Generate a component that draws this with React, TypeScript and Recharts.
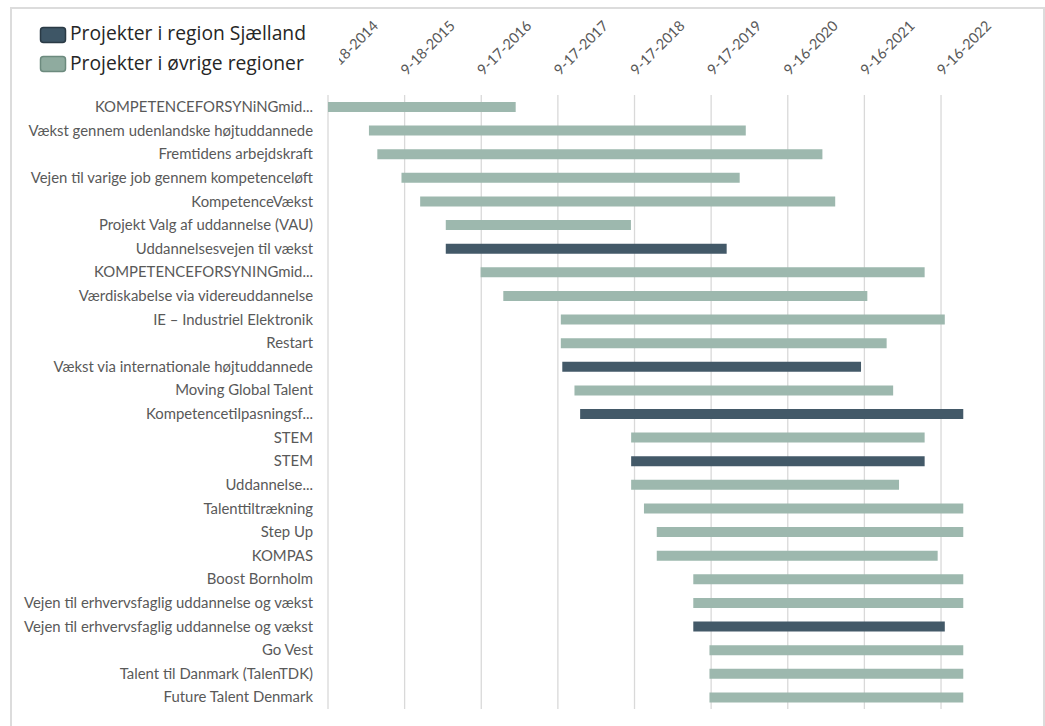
import React from 'react';
import { BarChart, Bar, XAxis, YAxis, CartesianGrid, Cell } from 'recharts';

const AXIS_START = '2014-09-18';
// axis runs on past the last project end (2022-12-31) up to the frame's right edge
const AXIS_END = '2024-01-10';

const projects = [
  'KOMPETENCEFORSYNiNGmid...',
  'Vækst gennem udenlandske højtuddannede',
  'Fremtidens arbejdskraft',
  'Vejen til varige job gennem kompetenceløft',
  'KompetenceVækst',
  'Projekt Valg af uddannelse (VAU)',
  'Uddannelsesvejen til vækst',
  'KOMPETENCEFORSYNINGmid...',
  'Værdiskabelse via videreuddannelse',
  'IE – Industriel Elektronik',
  'Restart',
  'Vækst via internationale højtuddannede',
  'Moving Global Talent',
  'Kompetencetilpasningsf...',
  'STEM',
  'STEM',
  'Uddannelse...',
  'Talenttiltrækning',
  'Step Up',
  'KOMPAS',
  'Boost Bornholm',
  'Vejen til erhvervsfaglig uddannelse og vækst',
  'Vejen til erhvervsfaglig uddannelse og vækst',
  'Go Vest',
  'Talent til Danmark (TalenTDK)',
  'Future Talent Denmark',
];

const startDates = [
  '2014-09-18', '2015-04-01', '2015-05-11', '2015-09-03', '2015-12-01',
  '2016-04-01', '2016-04-01', '2016-09-14', '2016-12-31', '2017-10-01',
  '2017-10-01', '2017-10-08', '2017-12-05', '2018-01-01', '2018-09-01',
  '2018-09-01', '2018-09-01', '2018-11-01', '2019-01-01', '2019-01-01',
  '2019-06-24', '2019-06-24', '2019-06-24', '2019-09-09', '2019-09-09',
  '2019-09-09',
];

const endDates = [
  '2017-02-28', '2020-02-29', '2021-02-28', '2020-01-31', '2021-04-30',
  '2018-08-31', '2019-11-30', '2022-06-30', '2021-09-30', '2022-10-04',
  '2021-12-31', '2021-08-31', '2022-01-31', '2022-12-31', '2022-06-30',
  '2022-06-30', '2022-02-28', '2022-12-31', '2022-12-31', '2022-08-31',
  '2022-12-31', '2022-12-31', '2022-10-04', '2022-12-31', '2022-12-31',
  '2022-12-31',
];

// 'S' = Projekter i region Sjælland, 'O' = Projekter i øvrige regioner
const regions = [
  'O', 'O', 'O', 'O', 'O', 'O', 'S', 'O', 'O', 'O', 'O', 'S', 'O', 'S',
  'O', 'S', 'O', 'O', 'O', 'O', 'O', 'O', 'S', 'O', 'O', 'O',
];

const tickDates = [
  '2014-09-18', '2015-09-18', '2016-09-17', '2017-09-17', '2018-09-17',
  '2019-09-17', '2020-09-16', '2021-09-16', '2022-09-16',
];
const tickLabels = [
  '9-18-2014', '9-18-2015', '9-17-2016', '9-17-2017', '9-17-2018',
  '9-17-2019', '9-16-2020', '9-16-2021', '9-16-2022',
];

const legendLabels = ['Projekter i region Sjælland', 'Projekter i øvrige regioner'];

const DARK = '#435968';
const LIGHT = '#9db8ae';

const toUTC = (s: string) => {
  const [y, m, d] = s.split('-').map(Number);
  return Date.UTC(y, m - 1, d);
};
const dayOf = (s: string) => Math.round((toUTC(s) - toUTC(AXIS_START)) / 86400000);

const data = projects.map((name, i) => ({
  id: i,
  name,
  region: regions[i],
  range: [dayOf(startDates[i]), dayOf(endDates[i])],
}));

const tickValues = tickDates.map(dayOf);
const MAX_DAY = dayOf(AXIS_END);

const FONT = 'Lato, "Liberation Sans", sans-serif';

const XTick = (props: any) => {
  const { x, payload, index } = props;
  const k = tickValues.indexOf(payload.value);
  const label = k >= 0 ? tickLabels[k] : '';
  const bx = x + 2;
  const by = 76;
  const text = (
    <text
      x={bx}
      y={by}
      textAnchor="start"
      fill="#595959"
      fontSize={14.5}
      fontFamily={FONT}
      transform={`rotate(-45, ${bx}, ${by})`}
    >
      {label}
    </text>
  );
  if (index === 0) {
    return (
      <g>
        <defs>
          <clipPath id="firstTickClip">
            <rect x={339} y={0} width={200} height={100} />
          </clipPath>
        </defs>
        <g clipPath="url(#firstTickClip)">{text}</g>
      </g>
    );
  }
  return <g>{text}</g>;
};

const YTick = (props: any) => {
  const { x, y, payload } = props;
  return (
    <text
      x={x}
      y={y}
      dy="0.355em"
      textAnchor="end"
      fill="#595959"
      fontSize={14.9}
      fontFamily={FONT}
    >
      {projects[payload.value]}
    </text>
  );
};

// vertical gridlines only at the date ticks
const gridXs = (args: any) => {
  const o = args && args.offset;
  if (!o || typeof o.left !== 'number' || typeof o.width !== 'number') return undefined as any;
  return tickValues.map((v) => o.left + (v / MAX_DAY) * o.width);
};

export default function App() {
  return (
    <div
      style={{
        position: 'fixed',
        left: 0,
        top: 0,
        width: 1045,
        height: 726,
        overflow: 'hidden',
        background: '#ffffff',
      }}
    >
      <div
        style={{
          position: 'absolute',
          left: 10,
          top: 7,
          width: 1035,
          height: 760,
          border: '2px solid #dcdcdc',
          boxSizing: 'border-box',
        }}
      />
      <div style={{ position: 'absolute', left: 0, top: 0 }}>
        <BarChart
          width={1045}
          height={726}
          data={data}
          layout="vertical"
          margin={{ top: 35, right: 3, bottom: 17, left: 0 }}
          barSize={10}
        >
          <CartesianGrid
            horizontal={false}
            stroke="#d9d9d9"
            strokeWidth={1.3}
            verticalCoordinatesGenerator={gridXs}
          />
          <XAxis
            type="number"
            orientation="top"
            domain={[0, MAX_DAY]}
            ticks={tickValues}
            tick={<XTick />}
            axisLine={false}
            tickLine={false}
            height={60}
            interval={0}
          />
          <YAxis
            type="category"
            dataKey="id"
            width={328}
            tickSize={0}
            tickMargin={15}
            axisLine={false}
            tickLine={false}
            interval={0}
            tick={<YTick />}
          />
          <Bar dataKey="range" isAnimationActive={false} stroke="none">
            {data.map((d) => (
              <Cell key={d.id} fill={d.region === 'S' ? DARK : LIGHT} />
            ))}
          </Bar>
        </BarChart>
      </div>
      <svg
        width={330}
        height={90}
        style={{ position: 'absolute', left: 0, top: 0 }}
      >
        <rect x={40.5} y={27.5} width={25} height={15} rx={3} fill="#3e5666" stroke="#2a3a45" strokeWidth={1.5} />
        <text x={70} y={40} fontSize={19.3} fontFamily='"Open Sans", sans-serif' fill="#262626">
          {legendLabels[0]}
        </text>
        <rect x={40.5} y={56.5} width={25} height={15} rx={3} fill="#8fab9f" stroke="#6c8a7e" strokeWidth={1.5} />
        <text x={70} y={70} fontSize={19.3} fontFamily='"Open Sans", sans-serif' fill="#262626">
          {legendLabels[1]}
        </text>
      </svg>
    </div>
  );
}
